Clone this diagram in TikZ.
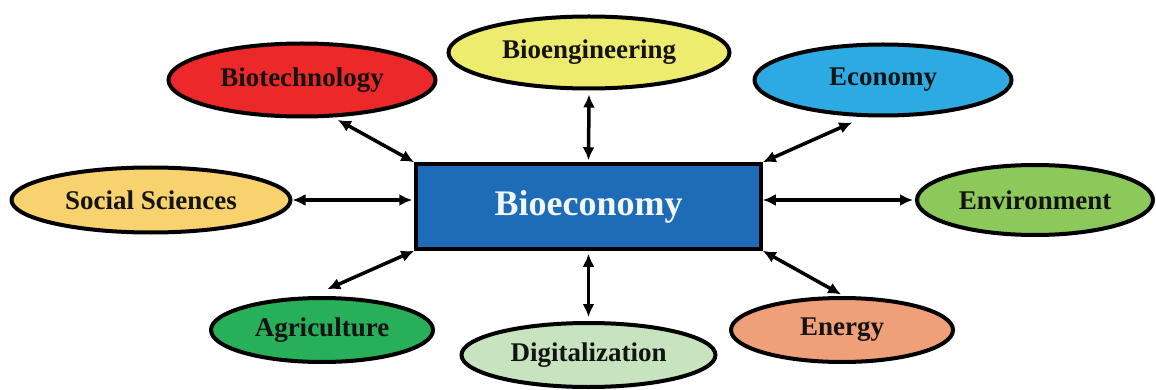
\documentclass[tikz,border=0pt]{standalone}
\usepackage{fontspec}
\setmainfont{Liberation Serif}
\usetikzlibrary{shapes.geometric,arrows.meta}
\definecolor{cMain}{RGB}{30,107,184}
\definecolor{cBT}{RGB}{237,40,40}
\definecolor{cBE}{RGB}{238,236,110}
\definecolor{cEC}{RGB}{45,170,225}
\definecolor{cSS}{RGB}{248,210,110}
\definecolor{cEN}{RGB}{140,200,90}
\definecolor{cAG}{RGB}{40,175,90}
\definecolor{cDG}{RGB}{200,228,190}
\definecolor{cER}{RGB}{240,160,120}
\definecolor{cTxt}{RGB}{20,20,20}
\definecolor{cMainTxt}{RGB}{240,246,242}
\begin{document}
\begin{tikzpicture}[x=1pt,y=-1pt,
  oval/.style={ellipse, draw=black, line width=4pt, inner sep=0pt,
    font=\fontsize{27}{30}\selectfont\bfseries, text=cTxt},
  mainbox/.style={rectangle, draw=black, line width=3.5pt, fill=cMain,
    minimum width=345pt, minimum height=85pt, inner sep=0pt,
    font=\fontsize{36}{40}\selectfont\bfseries, text=cMainTxt},
  arr/.style={{Latex[length=13pt,width=12pt]}-{Latex[length=13pt,width=12pt]}, line width=3.5pt},
]
\useasboundingbox (0,0) rectangle (1156,390);
\node[mainbox] (main) at (588.5,206.5) {Bioeconomy};
\node[oval, fill=cBT, minimum width=267pt, minimum height=73pt] (bt) at (302,80) {Biotechnology};
\node[oval, fill=cBE, minimum width=281pt, minimum height=72pt] (be) at (589,52.5) {Bioengineering};
\node[oval, fill=cEC, minimum width=257pt, minimum height=71pt] (ec) at (883,80) {Economy};
\node[oval, fill=cSS, minimum width=279pt, minimum height=65pt] (ss) at (151,200) {Social Sciences};
\node[oval, fill=cEN, minimum width=236pt, minimum height=70pt] (env) at (1035,200) {Environment};
\node[oval, fill=cAG, minimum width=222pt, minimum height=64pt] (ag) at (322,330) {Agriculture};
\node[oval, fill=cDG, minimum width=254pt, minimum height=64pt] (dg) at (588.5,355) {Digitalization};
\node[oval, fill=cER, minimum width=222pt, minimum height=64pt] (en) at (842,330) {Energy};

\draw[arr, shorten <=5pt] (bt.-50) -- (main.north west);
\draw[arr, shorten <=4pt, shorten >=2pt] (be.south) -- (main.north);
\draw[arr, shorten <=13pt] (ec.243) -- (main.north east);
\draw[arr, shorten >=2pt] (ss.east) -- (ss.east -| main.west);
\draw[arr, shorten >=2pt] (env.west -| main.east) -- (env.west);
\draw[arr, shorten <=17pt] (ag.107) -- (main.south west);
\draw[arr, shorten <=3pt, shorten >=4pt] (main.south) -- (dg.north);
\draw[arr, shorten >=3pt] (main.south east) -- (en.87);
\end{tikzpicture}
\end{document}
